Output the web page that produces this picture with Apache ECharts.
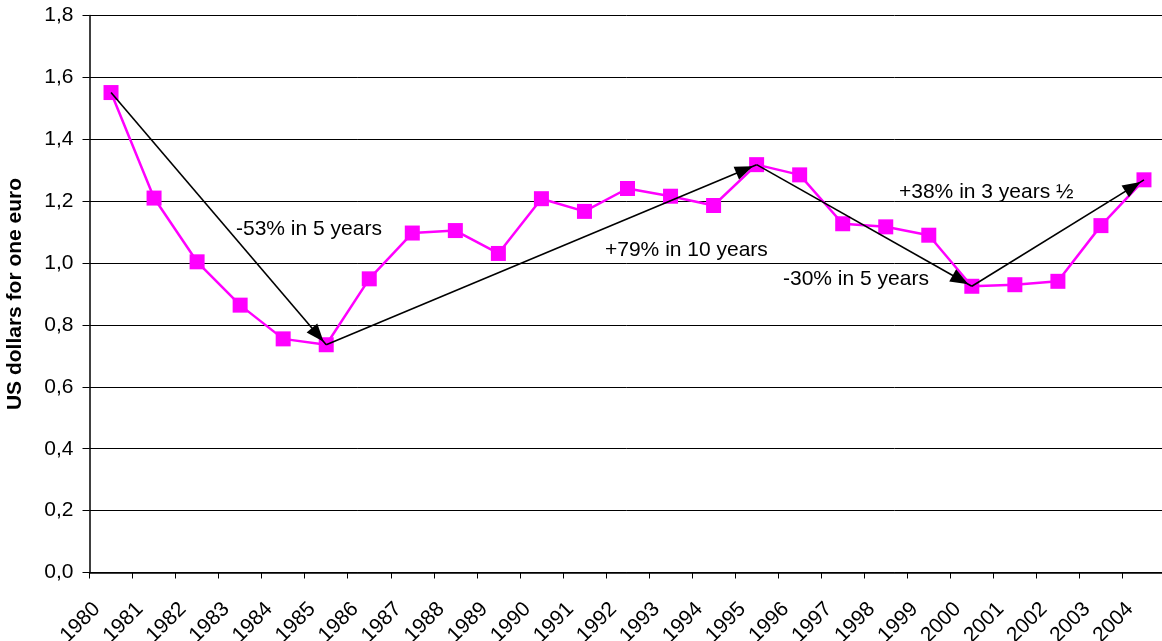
<!DOCTYPE html>
<html>
<head>
<meta charset="utf-8">
<script src="https://cdn.jsdelivr.net/npm/echarts@6/dist/echarts.min.js"></script>
<style>
html,body{margin:0;padding:0;background:#fff;}
#chart{width:1162px;height:641px;}
</style>
</head>
<body>
<div id="chart"></div>
<script>
const years = ['1980','1981','1982','1983','1984','1985','1986','1987','1988','1989','1990','1991','1992','1993','1994','1995','1996','1997','1998','1999','2000','2001','2002','2003','2004'];
const usdPerEuro = [1.551,1.210,1.004,0.864,0.755,0.736,0.949,1.097,1.105,1.031,1.208,1.167,1.241,1.216,1.186,1.318,1.285,1.127,1.117,1.090,0.925,0.930,0.941,1.121,1.269];
const arrowFromYears = ['1980','1985','1995','2000'];
const arrowToYears   = ['1985','1995','2000','2004'];
const annotationTexts = ['-53% in 5 years','+79% in 10 years','-30% in 5 years','+38% in 3 years \u00BD'];
const yAxisTitle = 'US dollars for one euro';

const FONT = '"Liberation Sans", Arial, sans-serif';
const valOf = y => usdPerEuro[years.indexOf(y)];

const arrowData = arrowFromYears.map((f, i) => [
  { coord: [f, valOf(f)] },
  { coord: [arrowToYears[i], valOf(arrowToYears[i])] }
]);

const annotationPos = [[236,229],[605,250],[783,279],[899,192]];

const chart = echarts.init(document.getElementById('chart'));
chart.setOption({
  animation: false,
  backgroundColor: '#fff',
  grid: { left: 89.5, top: 15.5, width: 1076, height: 557, outerBoundsMode: 'none', containLabel: false },
  xAxis: [{
    type: 'category',
    position: 'bottom',
    data: years,
    boundaryGap: true,
    axisLine: { lineStyle: { color: '#000', width: 1.5 } },
    axisTick: { show: true, length: 6, interval: 0, lineStyle: { color: '#000' } },
    axisLabel: { show: false },
    splitLine: { show: false }
  }, {
    type: 'category',
    position: 'bottom',
    data: years.concat(['']),
    boundaryGap: false,
    axisLine: { show: false },
    axisTick: { show: false },
    splitLine: { show: false },
    axisLabel: {
      show: true, interval: 0, rotate: 45, margin: 26,
      verticalAlign: 'top',
      fontSize: 21, fontFamily: FONT, color: '#000'
    }
  }],
  yAxis: {
    type: 'value',
    min: 0, max: 1.8, interval: 0.2,
    name: yAxisTitle,
    nameLocation: 'middle',
    nameGap: 64,
    nameTextStyle: { fontSize: 21, fontWeight: 'bold', fontFamily: FONT, color: '#000' },
    axisLine: { show: true, lineStyle: { color: '#000', width: 1.5 } },
    axisTick: { show: true, length: 7, lineStyle: { color: '#000' } },
    axisLabel: {
      margin: 16, fontSize: 21, fontFamily: FONT, color: '#000',
      formatter: v => v.toFixed(1).replace('.', ',')
    },
    splitLine: { show: true, lineStyle: { color: '#000', width: 1 } }
  },
  series: [{
    type: 'line',
    xAxisIndex: 0,
    data: usdPerEuro,
    symbol: 'rect',
    symbolSize: 15,
    lineStyle: { color: '#FF00FF', width: 2.5 },
    itemStyle: { color: '#FF00FF' },
    markLine: {
      silent: true,
      symbol: ['none', 'path://M0,0 M18,18 M9,0 L16,18 L2,18 Z'],
      symbolSize: 18,
      symbolOffset: [0, [0, 13]],
      label: { show: false },
      lineStyle: { color: '#000', width: 1.6, type: 'solid' },
      emphasis: { disabled: true },
      data: arrowData
    }
  }],
  graphic: annotationTexts.map((t, i) => ({
    type: 'text',
    x: annotationPos[i][0],
    y: annotationPos[i][1],
    z: 100,
    style: { text: t, font: '21px ' + FONT, fill: '#000', verticalAlign: 'middle', align: 'left' }
  }))
});
</script>
</body>
</html>
